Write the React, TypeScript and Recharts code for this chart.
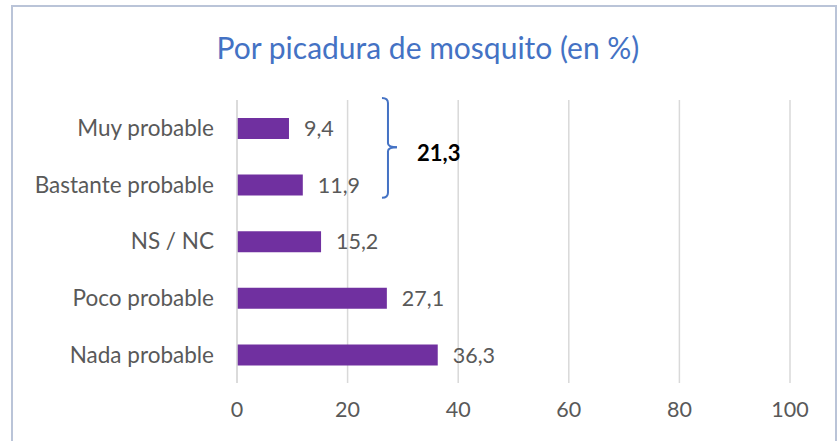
import React from "react";
import {
  BarChart,
  Bar,
  XAxis,
  YAxis,
  CartesianGrid,
  LabelList,
  ReferenceLine,
} from "recharts";

const CATEGORIES = ["Muy probable", "Bastante probable", "NS / NC", "Poco probable", "Nada probable"];
const VALUES = [9.4, 11.9, 15.2, 27.1, 36.3];
const X_TICKS = [0, 20, 40, 60, 80, 100];
const GROUP = ["Muy probable", "Bastante probable"];
const GROUP_TOTAL = "21,3";

const COLORS = {
  bar: "#7030A0",
  title: "#4472C4",
  text: "#595959",
  grid: "#D9D9D9",
  frame: "#BAC4D8",
  bracket: "#4472C4",
};

const FONT = "Lato, 'Open Sans', sans-serif";

const data = CATEGORIES.map((name, i) => ({ name, value: VALUES[i] }));

const fmt = (v: number) => v.toFixed(1).replace(".", ",");

// bracket drawn around the two band centres it receives from the y scale;
// extents are expressed as fractions of the row spacing
function Bracket(props: { x1?: number; y1?: number; x2?: number; y2?: number }) {
  const x = props.x1 ?? 0;
  const a = props.y1 ?? 0;
  const b = props.y2 ?? 0;
  const d = b - a;
  const top = a - 0.535 * d;
  const bottom = b + 0.225 * d;
  const mid = a + 0.335 * d;
  const d1 = `M${x - 6},${top} Q${x},${top} ${x},${top + 5} L${x},${mid - 4} Q${x},${mid} ${x + 9},${mid}`;
  const d2 = `M${x + 9},${mid} Q${x},${mid} ${x},${mid + 4} L${x},${bottom - 5} Q${x},${bottom} ${x - 6},${bottom}`;
  return (
    <g>
      <path d={d1} fill="none" stroke={COLORS.bracket} strokeWidth={2} />
      <path d={d2} fill="none" stroke={COLORS.bracket} strokeWidth={2} />
      <text
        x={x + 29}
        y={a + 0.43 * d}
        dominantBaseline="central"
        fontSize={22}
        fontWeight={700}
        fill="#000"
        fontFamily={FONT}
      >
        {GROUP_TOTAL}
      </text>
    </g>
  );
}

export default function App() {
  return (
    <div
      style={{
        position: "absolute",
        left: 0,
        top: 0,
        width: 840,
        height: 441,
        overflow: "hidden",
        background: "#fff",
        fontFamily: FONT,
      }}
    >
      <div
        style={{
          position: "absolute",
          left: 11,
          top: 5,
          width: 822,
          height: 460,
          border: `2px solid ${COLORS.frame}`,
        }}
      />
      <div
        style={{
          position: "absolute",
          left: 16,
          top: 31,
          width: 824,
          textAlign: "center",
          fontSize: 30,
          lineHeight: "32px",
          color: COLORS.title,
        }}
      >
        Por picadura de mosquito (en %)
      </div>
      <div style={{ position: "absolute", left: 0, top: 0 }}>
        <BarChart
          width={840}
          height={441}
          data={data}
          layout="vertical"
          margin={{ top: 100, right: 50, left: 0, bottom: 28 }}
        >
          <CartesianGrid stroke={COLORS.grid} strokeWidth={1.5} horizontal={false} />
          <XAxis
            type="number"
            domain={[0, 100]}
            ticks={X_TICKS}
            axisLine={false}
            tickLine={false}
            tickSize={0}
            tickMargin={19}
            height={30}
            tick={{ fontSize: 21.5, fill: COLORS.text, fontFamily: FONT }}
          />
          <YAxis
            type="category"
            dataKey="name"
            width={237}
            axisLine={{ stroke: COLORS.grid, strokeWidth: 1.5 }}
            tickLine={false}
            tickSize={0}
            tickMargin={23}
            tick={{ fontSize: 22.5, fill: COLORS.text, fontFamily: FONT }}
          />
          <Bar dataKey="value" fill={COLORS.bar} barSize={21} isAnimationActive={false}>
            <LabelList
              dataKey="value"
              position="right"
              offset={15}
              formatter={(v: unknown) => fmt(Number(v))}
              style={{ fontSize: 21.5, fill: COLORS.text, fontFamily: FONT }}
            />
          </Bar>
          <ReferenceLine
            ifOverflow="visible"
            segment={[
              { x: 27.3, y: GROUP[0] },
              { x: 27.3, y: GROUP[1] },
            ]}
            shape={(p: any) => <Bracket {...p} />}
          />
        </BarChart>
      </div>
    </div>
  );
}
